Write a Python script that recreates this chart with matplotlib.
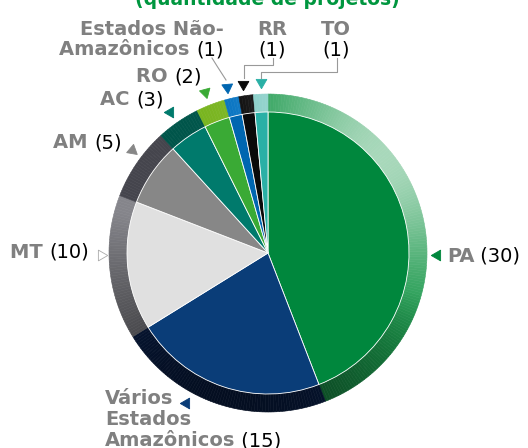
import numpy as np
import matplotlib
matplotlib.use("Agg")
import matplotlib.pyplot as plt
from matplotlib.patches import Wedge
from matplotlib.colors import to_rgb

# data, clockwise from 12 o'clock
names = ["PA", "Vários\nEstados\nAmazônicos", "MT", "AM", "AC", "RO",
         "Estados Não-\nAmazônicos", "RR", "TO"]
values = [30, 15, 10, 5, 3, 2, 1, 1, 1]
colors = ["#00873d", "#0a3d78", "#e0e0e0", "#878787", "#007a6c",
          "#3aaa35", "#0066b0", "#0a0a0a", "#2ab0a6"]
ring_colors = ["#1a984b", "#0a2352", "#85858b", "#45454d", "#00554a",
               "#78b41e", "#0070c0", "#000000", "#80cbc4"]

H = 448
cx, cy = 268, H - 253
r_in, r_out = 141, 159

NAME_C = "#808080"
FS = 14


def shade(c, ang):
    rgb = np.array(to_rgb(c))
    lt = 0.62 * max(0.0, np.cos(np.radians(ang - 40))) ** 3
    dk = 0.6 * max(0.0, np.cos(np.radians(ang - 255)))
    rgb = rgb + (1 - rgb) * lt
    return np.clip(rgb * (1 - dk), 0, 1)


fig = plt.figure(figsize=(5.28, 4.48), dpi=100)
ax = fig.add_axes([0, 0, 1, 1])

wedges, _ = ax.pie(values, colors=colors, startangle=90, counterclock=False,
                   center=(cx, cy), radius=r_in,
                   wedgeprops=dict(edgecolor="white", linewidth=0.6))

# shaded outer rim
for w, rc in zip(wedges, ring_colors):
    t1, t2 = w.theta1, w.theta2
    n = max(2, int(abs(t2 - t1)))
    edges = np.linspace(t1, t2, n + 1)
    for a, b in zip(edges[:-1], edges[1:]):
        col = shade(rc, (a + b) / 2)
        ax.add_patch(Wedge((cx, cy), r_out, a, b, width=r_out - r_in,
                           facecolor=col, edgecolor=col, linewidth=0.4, zorder=0))


def label_left(x, y, name, num):
    t = ax.text(x, H - y, name, color=NAME_C, fontsize=FS, fontweight="bold",
                va="baseline", ha="left")
    ax.annotate(" " + num, xy=(1, H - y), xycoords=(t, "data"), color="black",
                fontsize=FS, va="baseline", ha="left")


def label_right(x, y, name, num):
    t = ax.text(x, H - y, num, color="black", fontsize=FS, va="baseline", ha="right")
    ax.annotate(name + " ", xy=(0, H - y), xycoords=(t, "data"), color=NAME_C,
                fontsize=FS, fontweight="bold", va="baseline", ha="right")


label_left(447, 262, names[0], f"({values[0]})")
ax.text(105, H - 404, "Vários", color=NAME_C, fontsize=FS, fontweight="bold", va="baseline")
ax.text(105, H - 425, "Estados", color=NAME_C, fontsize=FS, fontweight="bold", va="baseline")
label_left(105, 446, "Amazônicos", f"({values[1]})")
label_right(89, 258, names[2], f"({values[2]})")
label_right(122, 148, names[3], f"({values[3]})")
label_right(164, 105, names[4], f"({values[4]})")
label_right(202, 82, names[5], f"({values[5]})")
ax.text(224, H - 35, "Estados Não-", color=NAME_C, fontsize=FS, fontweight="bold",
        va="baseline", ha="right")
label_right(224, 55, "Amazônicos", f"({values[6]})")
for x, nm, v in [(272, names[7], values[7]), (336, names[8], values[8])]:
    ax.text(x, H - 35, nm, color=NAME_C, fontsize=FS, fontweight="bold",
            va="baseline", ha="center")
    ax.text(x, H - 55, f"({v})", color="black", fontsize=FS, va="baseline", ha="center")

ax.text(267, H - 5, "(quantidade de projetos)", color="#00963f", fontsize=13.5,
        fontweight="bold", va="baseline", ha="center")

# leader lines
ax.plot([212, 217, 226], [H - 58, H - 66, H - 80], color="#999999", lw=0.8)
ax.plot([273, 273, 244, 244], [H - 58, H - 65, H - 65, H - 78], color="#999999", lw=0.8)
ax.plot([337, 337, 261, 261], [H - 58, H - 72, H - 72, H - 78], color="#999999", lw=0.8)

# pointer triangles
marks = [(437, 255, 90, colors[0]), (186, 403, 90, colors[1]),
         (101, 255, 270, "white"), (132, 150, -10, colors[3]),
         (170, 112, 210, colors[4]), (205, 92, 195, colors[5]),
         (227, 87, 185, colors[6]), (243, 84, 180, colors[7]),
         (261, 82, 180, colors[8])]
for x, y, rot, c in marks:
    ec = "#aaaaaa" if c == "white" else c
    ax.plot(x, H - y, marker=(3, 0, rot), markersize=9, color=c,
            markeredgecolor=ec, markeredgewidth=0.6)

ax.set_xlim(0, 528)
ax.set_ylim(0, H)
ax.set_aspect("equal")
ax.axis("off")

fig.savefig("out.png", dpi=100)
